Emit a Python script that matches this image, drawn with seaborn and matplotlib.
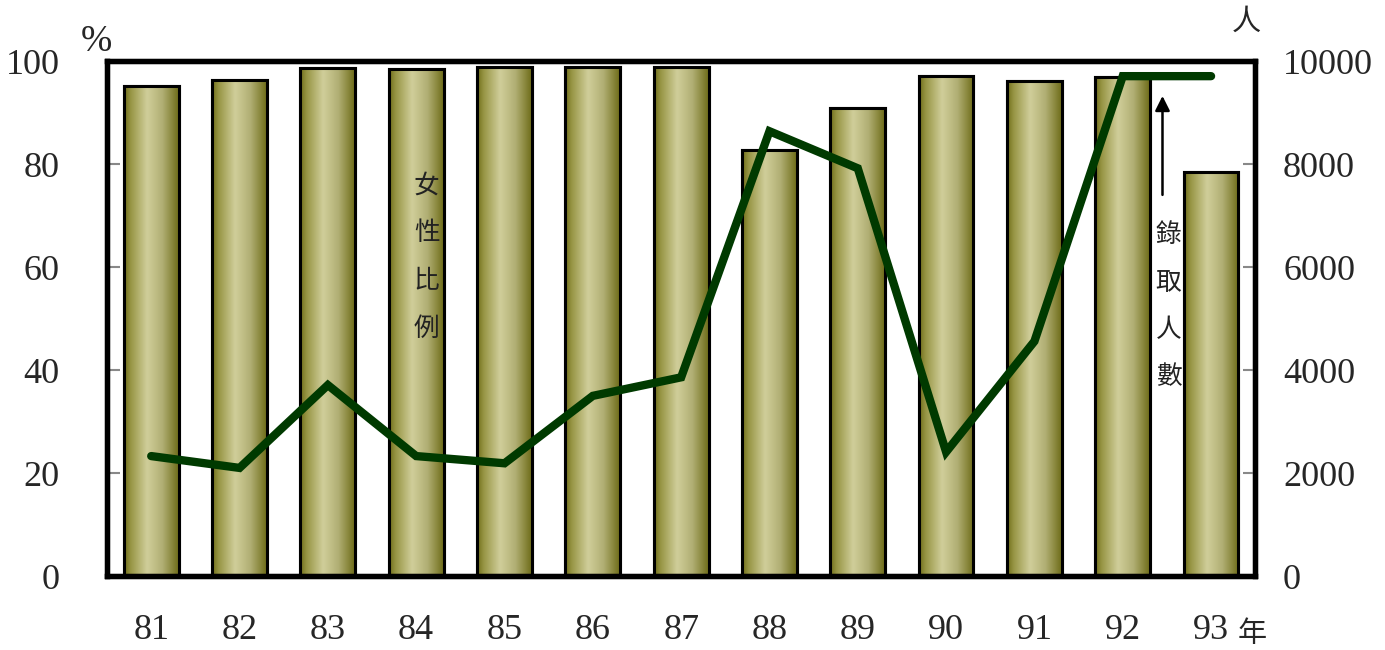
import numpy as np
import pandas as pd
import matplotlib
matplotlib.use('Agg')
import matplotlib.pyplot as plt
import seaborn as sns
from matplotlib.colors import LinearSegmentedColormap

years = ['81', '82', '83', '84', '85', '86', '87', '88', '89', '90', '91', '92', '93']
female_pct = [95.1, 96.3, 98.6, 98.4, 98.8, 98.8, 98.8, 82.7, 90.9, 97.1, 96.1, 96.9, 78.4]
admitted = [2330, 2100, 3710, 2330, 2190, 3500, 3860, 8640, 7920, 2410, 4560, 9710, 9710]

df = pd.DataFrame({'year': years, 'pct': female_pct, 'admitted': admitted})

sns.set_style('white')
serif = ['Liberation Serif', 'Noto Sans CJK TC']
cjk = ['Noto Sans CJK TC', 'DejaVu Sans']
plt.rcParams['font.family'] = serif

fig = plt.figure(figsize=(13.85, 6.5), dpi=100)
ax = fig.add_axes([0.0773, 0.1138, 0.829, 0.792])

sns.barplot(data=df, x='year', y='pct', ax=ax, width=0.62, color='#a8a660',
            edgecolor='black', linewidth=2.2, saturation=1, zorder=2)

# cylinder-like shading on each bar
shade = LinearSegmentedColormap.from_list(
    'cyl', [(0, '#6e6c18'), (0.12, '#979544'), (0.42, '#d0ce9a'),
            (0.7, '#b1af74'), (1, '#6e6c18')])
grad = np.linspace(0, 1, 256).reshape(1, -1)
for p in ax.patches:
    x0, y0 = p.get_x(), p.get_y()
    w, h = p.get_width(), p.get_height()
    im = ax.imshow(grad, cmap=shade, aspect='auto', extent=[x0, x0 + w, y0, y0 + h],
                   zorder=2.5, interpolation='bicubic')
    im.set_clip_path(p)
    edge = plt.Rectangle((x0, y0), w, h, fill=False, edgecolor='black', linewidth=2.2, zorder=3)
    ax.add_patch(edge)

ax.set_xlim(-0.5, 12.5)
ax.set_ylim(0, 100)
ax.set_yticks([0, 20, 40, 60, 80, 100])
ax.set_xlabel('')
ax.set_ylabel('')
ax.tick_params(axis='y', direction='in', length=9, width=1.5, color='#888888',
               labelsize=26, pad=34)
ax.tick_params(axis='x', length=0, labelsize=26, pad=27)
for s in ax.spines.values():
    s.set_linewidth(3.8)
    s.set_color('black')

ax2 = ax.twinx()
sns.lineplot(x=np.arange(len(years)), y=admitted, ax=ax2, color='#003a00',
             linewidth=6, solid_capstyle='round', solid_joinstyle='miter', zorder=5)
ax2.set_ylim(0, 10000)
ax2.set_yticks([0, 2000, 4000, 6000, 8000, 10000])
ax2.tick_params(axis='y', direction='in', length=9, width=1.5, color='#888888',
                labelsize=26, pad=20)
for s in ax2.spines.values():
    s.set_linewidth(3.8)
    s.set_color('black')
ax2.set_xlim(-0.5, 12.5)

# unit labels
fig.text(96 / 1385, 1 - 42 / 650, '%', fontsize=27, ha='center', va='center', family=serif)
fig.text(1246 / 1385, 1 - 22 / 650, '人', fontsize=21, ha='center', va='center', family=cjk)
fig.text(1252 / 1385, 1 - 634 / 650, '年', fontsize=21, ha='center', va='center', family=cjk)

# vertical annotations, one character at a time
for ch, yv in zip('女性比例', [75.9, 66.6, 57.3, 48.0]):
    ax.text(3.12, yv, ch, fontsize=18.5, ha='center', va='center', family=cjk,
            zorder=6, color='#222222')
for ch, yv in zip('錄取人數', [6620, 5700, 4780, 3870]):
    ax2.text(11.52, yv, ch, fontsize=18.5, ha='center', va='center', family=cjk,
             zorder=6, color='#222222')
ax2.annotate('', xy=(11.45, 9380), xytext=(11.45, 7350),
             arrowprops=dict(arrowstyle='-|>', color='black', lw=1.8, mutation_scale=22),
             zorder=6)

fig.savefig('out.png', dpi=100)
